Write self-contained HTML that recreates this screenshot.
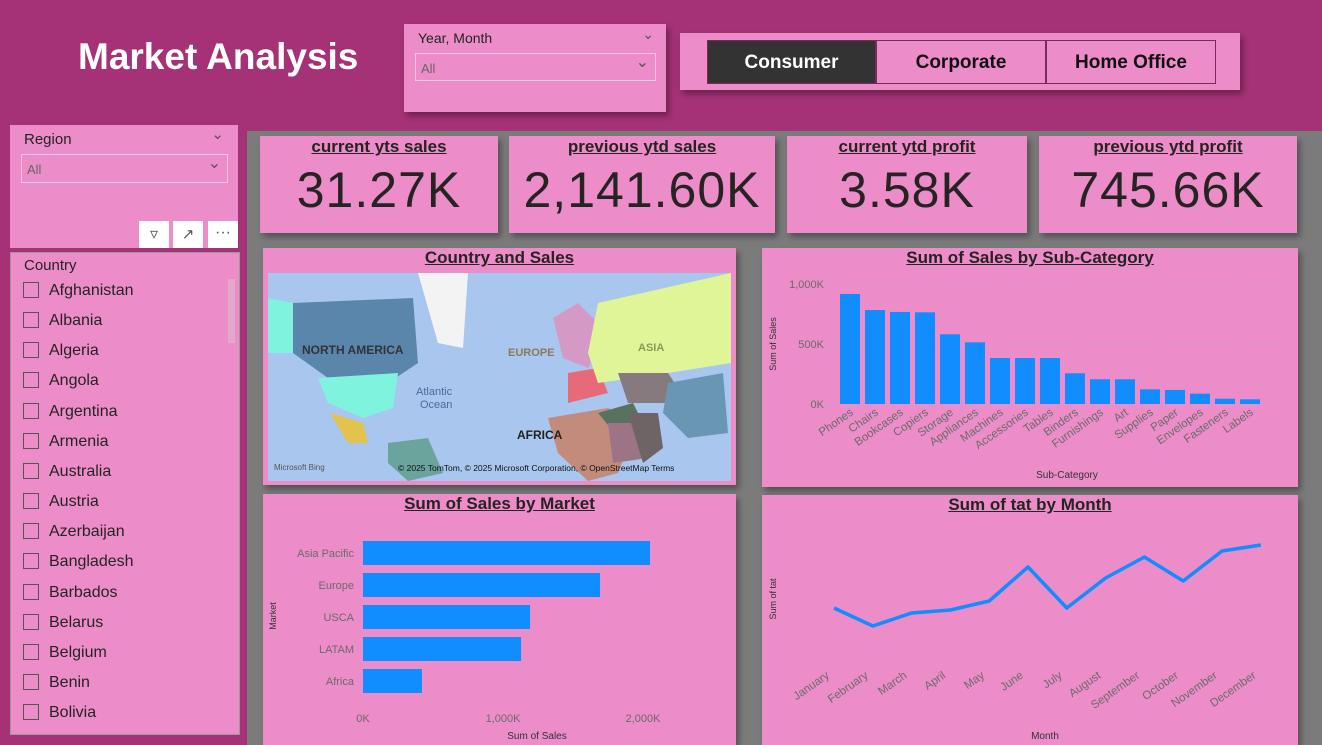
<!DOCTYPE html>
<html><head><meta charset="utf-8">
<style>
*{box-sizing:border-box;margin:0;padding:0}
body{width:1322px;height:745px;overflow:hidden;position:relative;background:#a53276;font-family:"Liberation Sans",sans-serif}
.abs{position:absolute}
.pink{background:#ec8cc8}
.shadow{box-shadow:3px 4px 6px rgba(0,0,0,0.35)}
.card{position:absolute;background:#ec8cc8;box-shadow:3px 4px 6px rgba(0,0,0,0.35);text-align:center}
.card .t{font-size:17px;font-weight:bold;text-decoration:underline;color:#252423;margin-top:1px}
.card .v{font-size:50px;color:#252423;margin-top:4px;letter-spacing:1px}
.ptitle{position:absolute;left:0;right:0;top:0;text-align:center;font-size:17px;font-weight:bold;text-decoration:underline;color:#252423}
.item{position:absolute;left:13px;font-size:16px;color:#252423}
.item span{display:inline-block;width:16px;height:16px;border:1px solid #555;vertical-align:-3px;margin-right:10px}
.seg{position:absolute;top:7px;height:44px;font-size:19px;font-weight:bold;text-align:center;line-height:44px;border:1px solid #7a2a5a}
</style></head><body>
<div class="abs" style="left:247px;top:131px;width:1075px;height:614px;background:#7b7b7b"></div>
<div class="abs" style="left:78px;top:36px;color:#fff;font-size:37px;font-weight:bold">Market Analysis</div>

<div class="abs pink shadow" style="left:404px;top:24px;width:262px;height:88px">
  <div class="abs" style="left:14px;top:6px;font-size:14px;color:#252423">Year, Month</div>
  <div class="abs" style="right:12px;top:2px;font-size:14px;color:#555">&#8964;</div>
  <div class="abs" style="left:11px;top:29px;width:241px;height:28px;border:1px solid #f6c8e3">
    <div class="abs" style="left:5px;top:7px;font-size:13px;color:#666">All</div>
    <div class="abs" style="right:6px;top:-2px;font-size:16px;color:#555">&#8964;</div>
  </div>
</div>

<div class="abs pink shadow" style="left:680px;top:33px;width:560px;height:57px">
  <div class="seg" style="left:27px;width:169px;background:#333;color:#fff">Consumer</div>
  <div class="seg" style="left:196px;width:170px;color:#111">Corporate</div>
  <div class="seg" style="left:366px;width:170px;color:#111">Home Office</div>
</div>

<div class="abs pink" style="left:10px;top:125px;width:228px;height:123px">
  <div class="abs" style="left:14px;top:6px;font-size:15px;color:#252423">Region</div>
  <div class="abs" style="right:14px;top:0px;font-size:15px;color:#555">&#8964;</div>
  <div class="abs" style="left:11px;top:29px;width:207px;height:29px;border:1px solid #f6c8e3">
    <div class="abs" style="left:5px;top:7px;font-size:13px;color:#666">All</div>
    <div class="abs" style="right:6px;top:-2px;font-size:16px;color:#555">&#8964;</div>
  </div>
  <div class="abs" style="left:129px;top:96px;width:30px;height:27px;background:#fff;text-align:center;font-size:16px;line-height:27px;color:#555">&#9663;</div>
  <div class="abs" style="left:163px;top:96px;width:30px;height:27px;background:#fff;text-align:center;font-size:15px;line-height:27px;color:#555">&#8599;</div>
  <div class="abs" style="left:198px;top:96px;width:30px;height:27px;background:#fff;text-align:center;font-size:16px;line-height:24px;color:#555">&middot;&middot;&middot;</div>
</div>

<div class="abs pink" style="left:10px;top:252px;width:230px;height:483px;border:1px solid #999">
  <div class="abs" style="left:13px;top:4px;font-size:15px;color:#252423">Country</div>
  <div class="abs" style="right:4px;top:26px;width:7px;height:64px;background:#e2a9cc"></div>
</div>
<div id="countries"></div>

<div class="card" style="left:260px;top:136px;width:238px;height:97px"><div class="t">current yts sales</div><div class="v">31.27K</div></div>
<div class="card" style="left:509px;top:136px;width:266px;height:97px"><div class="t">previous ytd sales</div><div class="v">2,141.60K</div></div>
<div class="card" style="left:787px;top:136px;width:240px;height:97px"><div class="t">current ytd profit</div><div class="v">3.58K</div></div>
<div class="card" style="left:1039px;top:136px;width:258px;height:97px"><div class="t">previous ytd profit</div><div class="v">745.66K</div></div>

<div class="abs pink shadow" style="left:263px;top:248px;width:473px;height:237px">
  <div class="ptitle">Country and Sales</div>
  <svg class="abs" style="left:5px;top:25px" width="463" height="208">
    <rect width="463" height="208" fill="#a9c6ee"/>
    <path d="M25,30 L145,25 L150,90 L120,110 L60,105 L25,80Z" fill="#5b86ac"/>
    <path d="M0,25 L25,30 L25,80 L0,80Z" fill="#7ff3de"/>
    <path d="M50,105 L130,100 L125,135 L95,145 L60,130Z" fill="#7ff3de"/>
    <path d="M62,140 L95,150 L100,170 L80,170Z" fill="#e3c34d"/>
    <path d="M150,0 L200,0 L195,75 L170,70Z" fill="#f3f3f3"/>
    <path d="M285,45 L310,30 L340,60 L320,95 L295,85Z" fill="#d49ac5"/>
    <path d="M300,100 L330,95 L340,120 L300,130Z" fill="#e76a78"/>
    <path d="M330,30 L463,0 L463,90 L400,100 L330,110 L320,80Z" fill="#dff597"/>
    <path d="M350,100 L400,100 L420,130 L360,130Z" fill="#877a7f"/>
    <path d="M400,110 L455,100 L460,160 L420,165 L395,140Z" fill="#6996b3"/>
    <path d="M280,145 L340,135 L370,150 L350,200 L320,208 L290,180Z" fill="#c38b7b"/>
    <path d="M330,140 L365,130 L380,160 L355,170Z" fill="#59715f"/>
    <path d="M340,150 L375,150 L380,185 L345,190Z" fill="#9d7386"/>
    <path d="M360,140 L390,140 L395,175 L375,190Z" fill="#6e6466"/>
    <path d="M120,170 L160,165 L175,200 L140,208 L120,190Z" fill="#6aa49c"/>
    <text x="34" y="81" font-size="12" font-weight="bold" fill="#333">NORTH AMERICA</text>
    <text x="240" y="83" font-size="11" font-weight="bold" fill="#8a7a5a">EUROPE</text>
    <text x="370" y="78" font-size="11" font-weight="bold" fill="#8a9a5a">ASIA</text>
    <text x="148" y="122" font-size="11" fill="#4a6a9a">Atlantic</text>
    <text x="152" y="135" font-size="11" fill="#4a6a9a">Ocean</text>
    <text x="249" y="166" font-size="12" font-weight="bold" fill="#222">AFRICA</text>
    <text x="6" y="197" font-size="8" fill="#555">Microsoft Bing</text>
    <text x="130" y="198" font-size="8.5" fill="#111">© 2025 TomTom, © 2025 Microsoft Corporation, © OpenStreetMap  Terms</text>
  </svg>
</div>

<div class="abs pink shadow" style="left:762px;top:248px;width:536px;height:239px">
  <div class="ptitle">Sum of Sales by Sub-Category</div>
</div>
<svg class="abs" id="subsvg" style="left:762px;top:248px" width="536" height="239"></svg>

<div class="abs pink shadow" style="left:263px;top:494px;width:473px;height:251px">
  <div class="ptitle">Sum of Sales by Market</div>
</div>
<svg class="abs" id="mktsvg" style="left:263px;top:494px" width="473" height="251"></svg>

<div class="abs pink shadow" style="left:762px;top:495px;width:536px;height:250px">
  <div class="ptitle">Sum of tat by Month</div>
</div>
<svg class="abs" id="monsvg" style="left:762px;top:495px" width="536" height="250"></svg>

<script>
const NS="http://www.w3.org/2000/svg";
function mk(p,tag,attrs,txt){const e=document.createElementNS(NS,tag);for(const k in attrs)e.setAttribute(k,attrs[k]);if(txt!==undefined)e.textContent=txt;p.appendChild(e);return e;}

const countries=["Afghanistan","Albania","Algeria","Angola","Argentina","Armenia","Australia","Austria","Azerbaijan","Bangladesh","Barbados","Belarus","Belgium","Benin","Bolivia"];
const cl=document.getElementById('countries');
countries.forEach((c,i)=>{const d=document.createElement('div');d.className='item';d.style.left='23px';d.style.top=(282+i*30.15)+'px';d.innerHTML='<span></span>'+c;


cl.appendChild(d);});

// Sub-category chart
const subCats=["Phones","Chairs","Bookcases","Copiers","Storage","Appliances","Machines","Accessories","Tables","Binders","Furnishings","Art","Supplies","Paper","Envelopes","Fasteners","Labels"];
const subSales=[917,783,767,764,581,514,383,383,383,256,206,206,122,117,86,44,39];
const subTicks=[0,500,1000];
const subTickLabels=["0K","500K","1,000K"];
(function(){
 const s=document.getElementById('subsvg');
 const y0=156,yk=0.12,x0=78,step=25,bw=20;
 const y=v=>y0-v*yk;
 subTicks.forEach((t,i)=>{mk(s,'line',{x1:66,x2:530,y1:y(t),y2:y(t),stroke:'#c9a3bb','stroke-dasharray':'2,3'});
  const tl=mk(s,'text',{x:62,y:y(t)+4,'text-anchor':'end','font-size':11,fill:'#6b6b6b'},subTickLabels[i]);
  
  });
 subCats.forEach((c,i)=>{const r=mk(s,'rect',{x:x0+i*step,y:y(subSales[i]),width:bw,height:subSales[i]*yk,fill:'#118dff'});
  
  
  const cx=x0+i*step+bw/2+4;
  const t=mk(s,'text',{x:cx,y:166,'text-anchor':'end','font-size':11.5,fill:'#6b6b6b',transform:`rotate(-35 ${cx} 166)`},c);
  
  });
 const yt=mk(s,'text',{x:14,y:96,'text-anchor':'middle','font-size':9,fill:'#333',transform:'rotate(-90 14 96)'},'Sum of Sales');
 
 
 const xt=mk(s,'text',{x:305,y:230,'text-anchor':'middle','font-size':10,fill:'#333'},'Sub-Category');
 
 
})();

// Market chart
const markets=["Asia Pacific","Europe","USCA","LATAM","Africa"];
const marketSales=[2050,1693,1193,1129,421];
const mktTicks=[0,1000,2000];
const mktTickLabels=["0K","1,000K","2,000K"];
(function(){
 const s=document.getElementById('mktsvg');
 const x0=100,xk=0.14;const x=v=>x0+v*xk;
 markets.forEach((m,i)=>{const cy=59+i*32;
  const r=mk(s,'rect',{x:x0,y:cy-12,width:marketSales[i]*xk,height:24,fill:'#118dff'});
  
  
  const t=mk(s,'text',{x:91,y:cy+4,'text-anchor':'end','font-size':11,fill:'#6b6b6b'},m);
  
  });
 mktTicks.forEach((t,i)=>{const l=mk(s,'text',{x:x(t),y:228,'text-anchor':'middle','font-size':11,fill:'#6b6b6b'},mktTickLabels[i]);
  
  });
 const yt=mk(s,'text',{x:13,y:122,'text-anchor':'middle','font-size':9,fill:'#333',transform:'rotate(-90 13 122)'},'Market');
 
 
 const xt=mk(s,'text',{x:274,y:245,'text-anchor':'middle','font-size':10,fill:'#333'},'Sum of Sales');
 
 
})();

// Month line chart
const months=["January","February","March","April","May","June","July","August","September","October","November","December"];
const tatValues=[42,24,37,40,49,83,42,72,93,69,99,105];
(function(){
 const s=document.getElementById('monsvg');
 const x0=72,step=38.8;const x=i=>x0+i*step;const y=v=>155-v*1;
 const pts=tatValues.map((v,i)=>x(i)+','+y(v)).join(' ');
 const l=mk(s,'polyline',{points:pts,fill:'none',stroke:'#118dff','stroke-width':3.5,'stroke-linejoin':'round'});
 
 
 months.forEach((m,i)=>{const cx=x(i)-4;
  const t=mk(s,'text',{x:cx,y:182,'text-anchor':'end','font-size':11.5,fill:'#6b6b6b',transform:`rotate(-35 ${cx} 182)`},m);
  
  });
 const yt=mk(s,'text',{x:14,y:104,'text-anchor':'middle','font-size':9,fill:'#333',transform:'rotate(-90 14 104)'},'Sum of tat');
 
 
 const xt=mk(s,'text',{x:283,y:244,'text-anchor':'middle','font-size':10,fill:'#333'},'Month');
 
 
})();
</script>
</body></html>
